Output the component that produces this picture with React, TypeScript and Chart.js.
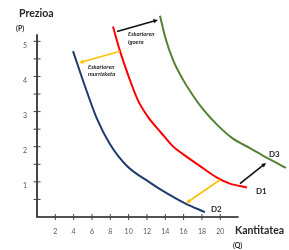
import React, { useEffect, useRef } from "react";
import { Chart, registerables } from "chart.js";

Chart.register(...registerables);

// Demand curves (Quantity Q, Price P)
const D2_Q = [3.93, 5.13, 6.55, 7.97, 9.82, 12.33, 14.19, 16.15, 18.33];
const D2_P = [4.72, 3.8, 2.79, 2.07, 1.45, 0.98, 0.67, 0.39, 0.14];
const D1_Q = [8.29, 9.06, 9.93, 11.02, 12.11, 13.64, 14.84, 15.93, 17.79, 19.64, 21.06, 22.92];
const D1_P = [5.42, 4.72, 4.05, 3.32, 2.85, 2.37, 2.01, 1.79, 1.45, 1.12, 0.95, 0.84];
const D3_Q = [13.42, 13.97, 14.84, 15.93, 17.02, 18.11, 19.64, 21.39, 23.24, 25.1, 27.17];
const D3_P = [5.73, 5.14, 4.47, 3.91, 3.46, 3.07, 2.63, 2.23, 1.96, 1.68, 1.4];

const X_TICKS = [2, 4, 6, 8, 10, 12, 14, 16, 18, 20];
const Y_TICKS = [0.5, 1, 1.5, 2, 2.5, 3, 3.5, 4, 4.5, 5];

// Shift arrows: [fromQ, fromP, toQ, toP]
const ARROW_UP_TOP = [8.73, 5.28, 13.2, 5.61];
const ARROW_DOWN_TOP = [9.06, 4.72, 4.58, 4.39];
const ARROW_UP_BOTTOM = [22.15, 0.95, 25.0, 1.54];
const ARROW_DOWN_BOTTOM = [19.97, 1.06, 16.26, 0.39];

const pts = (qs: number[], ps: number[]) => qs.map((q, i) => ({ x: q, y: ps[i] }));

const overlay = {
  id: "overlay",
  afterDraw(chart: any) {
    const ctx = chart.ctx;
    const xs = chart.scales.x;
    const ys = chart.scales.y;
    const X = (v: number) => xs.getPixelForValue(v);
    const Y = (v: number) => ys.getPixelForValue(v);
    ctx.save();
    // axes
    ctx.strokeStyle = "#1a1a1a";
    ctx.lineWidth = 1.6;
    ctx.beginPath();
    ctx.moveTo(X(0), Y(5.2));
    ctx.lineTo(X(0), Y(0));
    ctx.lineTo(X(22), Y(0));
    ctx.stroke();
    ctx.lineWidth = 1;
    ctx.strokeStyle = "#444";
    Y_TICKS.forEach((v) => {
      ctx.beginPath();
      ctx.moveTo(X(0) - 3.5, Y(v));
      ctx.lineTo(X(0) + 3.5, Y(v));
      ctx.stroke();
    });
    X_TICKS.forEach((v) => {
      ctx.beginPath();
      ctx.moveTo(X(v), Y(0) - 3);
      ctx.lineTo(X(v), Y(0) + 3);
      ctx.stroke();
    });
    // arrows
    const arrow = (a: number[], color: string) => {
      const x1 = X(a[0]), y1 = Y(a[1]), x2 = X(a[2]), y2 = Y(a[3]);
      const ang = Math.atan2(y2 - y1, x2 - x1);
      const h = 5;
      ctx.strokeStyle = color;
      ctx.fillStyle = color;
      ctx.lineWidth = 1.6;
      ctx.beginPath();
      ctx.moveTo(x1, y1);
      ctx.lineTo(x2 - Math.cos(ang) * h * 0.8, y2 - Math.sin(ang) * h * 0.8);
      ctx.stroke();
      ctx.beginPath();
      ctx.moveTo(x2, y2);
      ctx.lineTo(x2 - h * Math.cos(ang - 0.45), y2 - h * Math.sin(ang - 0.45));
      ctx.lineTo(x2 - h * Math.cos(ang + 0.45), y2 - h * Math.sin(ang + 0.45));
      ctx.closePath();
      ctx.fill();
    };
    arrow(ARROW_UP_TOP, "#111111");
    arrow(ARROW_DOWN_TOP, "#ffc000");
    arrow(ARROW_UP_BOTTOM, "#111111");
    arrow(ARROW_DOWN_BOTTOM, "#ffc000");
    // texts
    ctx.fillStyle = "#262626";
    ctx.textBaseline = "middle";
    ctx.textAlign = "left";
    ctx.font = "bold 10.5px Lato";
    ctx.fillText("Prezioa", 19, 14);
    ctx.fillText("Kantitatea", 235, 231);
    ctx.font = "bold 7px Lato";
    ctx.fillText("(P)", 16, 29);
    ctx.fillText("(Q)", 233, 246);
    ctx.font = "bold 8px Lato";
    ctx.fillText("D1", 256, 191);
    ctx.fillText("D2", 211, 209);
    ctx.fillText("D3", 269, 154);
    ctx.font = "italic bold 6px Lato";
    ctx.fillText("Eskarioren", 128, 34);
    ctx.fillText("igoera", 128, 42);
    ctx.fillText("Eskarioren", 88, 67);
    ctx.fillText("murrizketa", 88, 74);
    ctx.restore();
  },
};

export default function App() {
  const ref = useRef<HTMLCanvasElement>(null);
  useEffect(() => {
    if (!ref.current) return;
    const line = (data: any, color: string) => ({
      data,
      borderColor: color,
      borderWidth: 2,
      pointRadius: 0,
      fill: false,
      cubicInterpolationMode: "monotone" as const,
    });
    const chart = new Chart(ref.current, {
      type: "line",
      data: {
        datasets: [
          line(pts(D2_Q, D2_P), "#1f3a6e"),
          line(pts(D1_Q, D1_P), "#ff0000"),
          line(pts(D3_Q, D3_P), "#548235"),
        ],
      },
      options: {
        animation: false,
        responsive: false,
        layout: { padding: { top: 2, left: 0, right: 0, bottom: 0 } },
        plugins: { legend: { display: false }, tooltip: { enabled: false } },
        scales: {
          x: {
            type: "linear",
            min: 0,
            max: 27.5,
            grid: { display: false },
            border: { display: false },
            afterBuildTicks: (s: any) => {
              s.ticks = X_TICKS.map((v) => ({ value: v }));
            },
            afterFit: (s: any) => {
              s.height = 33;
            },
            ticks: {
              padding: 3,
              maxRotation: 0,
              autoSkip: false,
              color: "#595959",
              font: { family: "Lato", size: 7 },
            },
          },
          y: {
            type: "linear",
            min: 0,
            max: 6,
            grid: { display: false },
            border: { display: false },
            afterBuildTicks: (s: any) => {
              s.ticks = Y_TICKS.map((v) => ({ value: v }));
            },
            afterFit: (s: any) => {
              s.width = 37;
            },
            ticks: {
              padding: 2,
              labelOffset: 4,
              autoSkip: false,
              color: "#595959",
              font: { family: "Lato", size: 7 },
              callback: (v: any) => (Number.isInteger(v) ? String(v) : ""),
            },
          },
        },
      },
      plugins: [overlay],
    });
    return () => chart.destroy();
  }, []);
  return (
    <div style={{ position: "fixed", left: 0, top: 0, width: 289, height: 250, background: "#fff" }}>
      <canvas ref={ref} width={289} height={250} style={{ display: "block" }} />
    </div>
  );
}
